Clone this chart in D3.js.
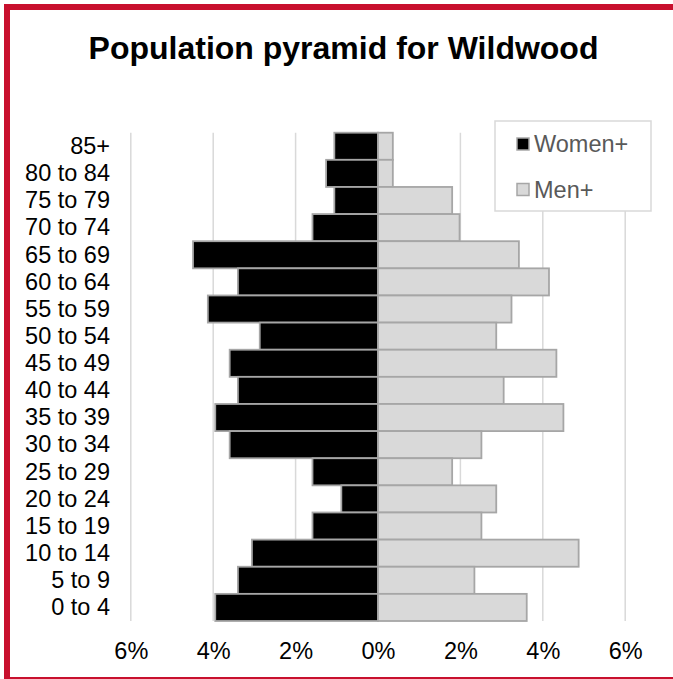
<!DOCTYPE html>
<html>
<head>
<meta charset="utf-8">
<script src="https://cdn.jsdelivr.net/npm/d3@7"></script>
<style>
  html, body { margin: 0; padding: 0; background: #fff; }
  svg { display: block; font-family: "Liberation Sans", Arial, sans-serif; }
</style>
</head>
<body>
<svg id="chart" width="673" height="679"></svg>
<script>
const title = "Population pyramid for Wildwood";
const categories = ["85+", "80 to 84", "75 to 79", "70 to 74", "65 to 69", "60 to 64", "55 to 59", "50 to 54", "45 to 49", "40 to 44", "35 to 39", "30 to 34", "25 to 29", "20 to 24", "15 to 19", "10 to 14", "5 to 9", "0 to 4"];
const women = [1.06, 1.26, 1.06, 1.59, 4.49, 3.40, 4.13, 2.87, 3.60, 3.40, 3.95, 3.60, 1.59, 0.89, 1.59, 3.06, 3.40, 3.95];
const men = [0.36, 0.36, 1.80, 1.98, 3.42, 4.15, 3.24, 2.87, 4.33, 3.05, 4.50, 2.51, 1.80, 2.87, 2.51, 4.87, 2.34, 3.61];
const tickValues = [-6, -4, -2, 0, 2, 4, 6];
const seriesNames = ["Women+", "Men+"];

const svg = d3.select("#chart");

// frame
svg.append("rect").attr("x", 7).attr("y", 7).attr("width", 680).attr("height", 673)
  .attr("fill", "#fff").attr("stroke", "#c8102e").attr("stroke-width", 6);

// title
svg.append("text").attr("x", 343.5).attr("y", 58.5)
  .attr("text-anchor", "middle").attr("font-weight", "bold").attr("font-size", 32)
  .attr("fill", "#000").text(title);

const x = d3.scaleLinear().domain([-6, 6]).range([130.8, 625.2]);
const y = d3.scaleBand().domain(categories).range([132.7, 621]).padding(0);

// gridlines
svg.append("g").selectAll("line").data(tickValues).join("line")
  .attr("x1", d => x(d)).attr("x2", d => x(d))
  .attr("y1", y.range()[0]).attr("y2", y.range()[1])
  .attr("stroke", "#d9d9d9").attr("stroke-width", 1.5);

// bars
const gBars = svg.append("g");
gBars.selectAll("rect.w").data(categories).join("rect").attr("class", "w")
  .attr("x", (d, i) => x(-women[i])).attr("width", (d, i) => x(0) - x(-women[i]))
  .attr("y", d => y(d)).attr("height", y.bandwidth())
  .attr("fill", "#000").attr("stroke", "#a6a6a6").attr("stroke-width", 1.8);
gBars.selectAll("rect.m").data(categories).join("rect").attr("class", "m")
  .attr("x", x(0)).attr("width", (d, i) => x(men[i]) - x(0))
  .attr("y", d => y(d)).attr("height", y.bandwidth())
  .attr("fill", "#d9d9d9").attr("stroke", "#a6a6a6").attr("stroke-width", 1.8);

// category axis labels
const yAxis = d3.axisLeft(y).tickSize(0).tickPadding(0);
const gy = svg.append("g").attr("transform", "translate(110,0)").call(yAxis);
gy.select(".domain").remove();
gy.selectAll("text").attr("font-size", 23.5).attr("fill", "#000")
  .attr("font-family", "'Liberation Sans', Arial, sans-serif").attr("dy", "0.33em");

// x axis labels
const xAxis = d3.axisBottom(x).tickValues(tickValues).tickSize(0).tickPadding(0)
  .tickFormat(d => Math.abs(d) + "%");
const gx = svg.append("g").attr("transform", "translate(0,658.5)").call(xAxis);
gx.select(".domain").remove();
gx.selectAll("text").attr("font-size", 23.5).attr("fill", "#000").attr("dy", 0)
  .attr("font-family", "'Liberation Sans', Arial, sans-serif");

// legend
const lg = svg.append("g");
lg.append("rect").attr("x", 495).attr("y", 121).attr("width", 156).attr("height", 90)
  .attr("fill", "#fff").attr("stroke", "#d9d9d9").attr("stroke-width", 1.5);
const legendColors = ["#000", "#d9d9d9"];
const legendY = [144.5, 190];
seriesNames.forEach((name, i) => {
  lg.append("rect").attr("x", 517).attr("y", legendY[i] - 6.5).attr("width", 12).attr("height", 12)
    .attr("fill", legendColors[i]).attr("stroke", "#a6a6a6").attr("stroke-width", 1.5);
  lg.append("text").attr("x", 534).attr("y", legendY[i] + 7.5)
    .attr("font-size", 23.5).attr("fill", "#595959").text(name);
});
</script>
</body>
</html>
